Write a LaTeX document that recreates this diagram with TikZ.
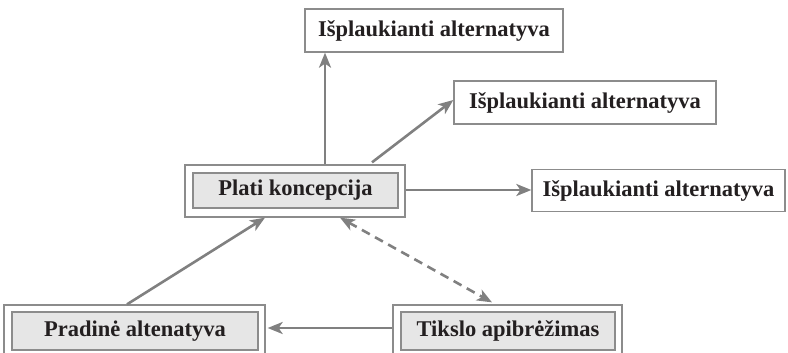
\documentclass[tikz,border=0pt]{standalone}
\usepackage{fontspec}
\setmainfont{Liberation Serif}
\usetikzlibrary{arrows.meta}
\definecolor{boxline}{HTML}{8C8C8C}
\definecolor{boxfill}{HTML}{E6E6E6}
\definecolor{arrowgray}{HTML}{808080}
\definecolor{ink}{HTML}{231F20}
\tikzset{
  label text/.style={font=\fontsize{22.5}{26}\selectfont\bfseries, text=ink},
  plainbox/.style={draw=boxline, line width=1.3pt, fill=white, inner sep=0pt,
    label text},
  outerbox/.style={draw=boxline, line width=1.3pt, fill=white, inner sep=0pt},
  innerbox/.style={draw=boxline, line width=1.3pt, fill=boxfill, inner sep=0pt,
    label text},
  arr/.style={draw=arrowgray, line width=2.6pt,
    -{Stealth[length=15pt,width=12pt,inset=4pt]}},
  dasharr/.style={arr, dash pattern=on 9pt off 6pt,
    {Stealth[length=15pt,width=12pt,inset=4pt]}-{Stealth[length=15pt,width=12pt,inset=4pt]}},
}
\begin{document}
\begin{tikzpicture}[x=1pt,y=-1pt]
\useasboundingbox (0,0) rectangle (788,353);
\clip (0,0) rectangle (788,353);

% outcome boxes
\node[plainbox, minimum width=258pt, minimum height=43pt] (top) at (434,30.5) {Išplaukianti alternatyva};
\node[plainbox, minimum width=262pt, minimum height=43pt] (mid) at (585,102.5) {Išplaukianti alternatyva};
\node[plainbox, minimum width=253pt, minimum height=42pt] (right) at (658.5,190.5) {Išplaukianti alternatyva};

% framed boxes: outer white frame with a shaded inner panel
\node[outerbox, minimum width=220pt, minimum height=52pt] (plati) at (295,191) {};
\node[innerbox, minimum width=205pt, minimum height=35pt] (platiin) at (295.5,190.5) {Plati koncepcija};

\node[outerbox, minimum width=261pt, minimum height=52pt] (pradine) at (134.5,331) {};
\node[innerbox, minimum width=246pt, minimum height=38pt] (pradinein) at (135,331) {Pradinė altenatyva};

\node[outerbox, minimum width=229pt, minimum height=52pt] (tikslas) at (507.5,331) {};
\node[innerbox, minimum width=214pt, minimum height=38pt] (tikslasin) at (508,331) {Tikslo apibrėžimas};

% connectors
\draw[arr] ([xshift=30pt]plati.north) -- ([xshift=30pt]plati.north |- top.south);
\draw[arr] ([xshift=77pt,yshift=2pt]plati.north) -- ([yshift=2.5pt]mid.west);
\draw[arr] ([yshift=1pt]plati.east) -- ([yshift=1pt]plati.east -| right.west);
\draw[dasharr] ([xshift=45pt]plati.south) -- ([xshift=-15.5pt,yshift=2pt]tikslas.north);
\draw[arr] ([xshift=-7.5pt]pradine.north) -- ([xshift=-30pt]plati.south);
\draw[arr, shorten >=2pt] ([yshift=3pt]tikslas.west) -- ([yshift=3pt]pradine.east);
\end{tikzpicture}
\end{document}
